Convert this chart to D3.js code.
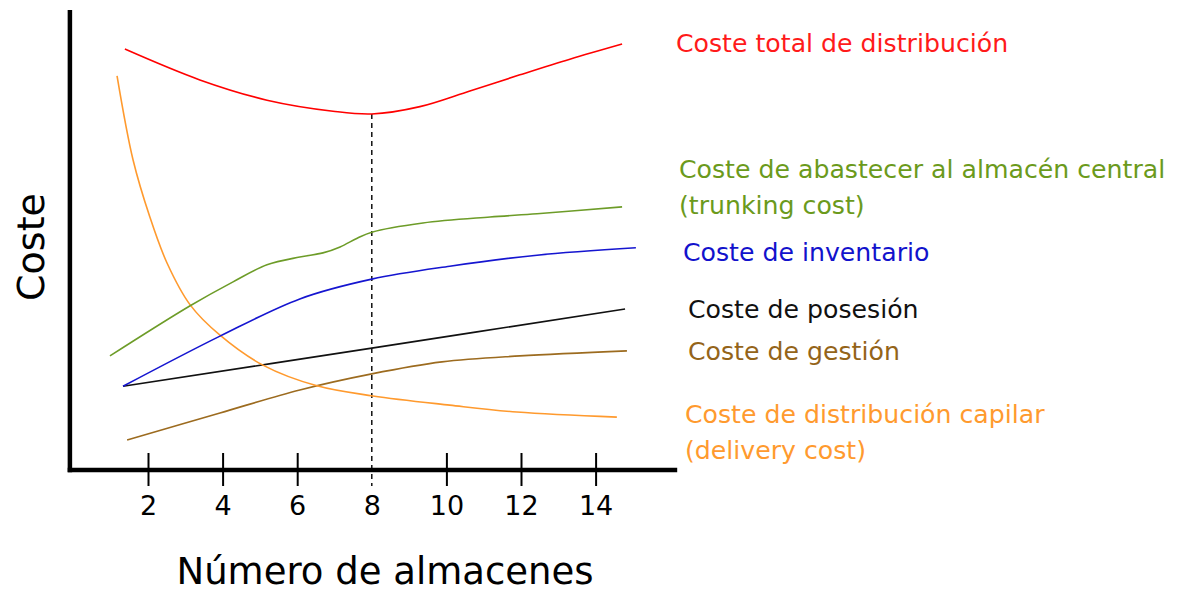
<!DOCTYPE html>
<html>
<head>
<meta charset="utf-8">
<script src="https://cdn.jsdelivr.net/npm/d3@7"></script>
<style>
  html, body { margin: 0; padding: 0; background: #fff; }
  svg { display: block; }
  text { font-family: "DejaVu Sans", Verdana, sans-serif; }
</style>
</head>
<body>
<svg id="chart" width="1180" height="594"></svg>
<script>
// Number of warehouses on the x axis, cost (arbitrary units) on the y axis.
const tickValues = [2, 4, 6, 8, 10, 12, 14];
const optimumWarehouses = 8;

// Total distribution cost
const totalX = [1.38, 3.39, 5.19, 6.96, 8.0, 9.29, 10.63, 11.97, 13.31, 14.71];
const totalY = [91.5, 84.8, 80.4, 78.0, 77.4, 79.0, 82.4, 85.9, 89.3, 92.6];

// Trunking cost
const trunkX = [0.98, 3.13, 4.28, 5.19, 6.07, 6.69, 7.15, 7.61, 8.0, 9.37, 11.17, 12.43, 14.71];
const trunkY = [24.8, 35.7, 40.9, 44.6, 46.3, 47.2, 48.5, 50.4, 51.7, 53.7, 55.0, 55.7, 57.2];

// Inventory cost
const invX = [1.33, 3.93, 6.07, 8.0, 10.09, 12.43, 15.08];
const invY = [18.2, 29.1, 37.2, 41.5, 44.3, 46.7, 48.3];

// Holding cost
const holdX = [1.33, 8.0, 14.79];
const holdY = [18.2, 26.5, 35.0];

// Management cost
const mgmtX = [1.44, 3.93, 6.07, 8.0, 9.88, 11.97, 14.84];
const mgmtY = [6.5, 12.4, 17.4, 20.9, 23.5, 24.8, 25.9];

// Delivery cost
const delivX = [1.17, 1.60, 2.05, 2.51, 3.13, 3.93, 5.08, 6.53, 8.03, 10.09, 11.89, 14.57];
const delivY = [85.7, 67.4, 55.0, 45.0, 35.9, 29.3, 22.8, 18.3, 16.1, 14.1, 12.6, 11.5];

const seriesNames = ["total", "trunk", "inv", "hold", "mgmt", "deliv"];
const seriesLabels = [
  ["Coste total de distribución"],
  ["Coste de abastecer al almacén central", "(trunking cost)"],
  ["Coste de inventario"],
  ["Coste de posesión"],
  ["Coste de gestión"],
  ["Coste de distribución capilar", "(delivery cost)"]
];
const xTitle = "Número de almacenes";
const yTitle = "Coste";

// ---- drawing ----
const colors = {
  total: "#ff0000",
  trunk: "#6d9c28",
  inv: "#1515d0",
  hold: "#111111",
  mgmt: "#9c6b1f",
  deliv: "#ff9a2e"
};
const textColors = {
  total: "#ff1a1a",
  trunk: "#6b9a1c",
  inv: "#1212cc",
  hold: "#111111",
  mgmt: "#946419",
  deliv: "#ff9a2e"
};

const svg = d3.select("#chart");
const x = d3.scaleLinear().domain([0, 16]).range([73.4, 670.2]);
const y = d3.scaleLinear().domain([0, 100]).range([470, 10]);

const seriesData = {
  total: d3.zip(totalX, totalY),
  trunk: d3.zip(trunkX, trunkY),
  inv: d3.zip(invX, invY),
  hold: d3.zip(holdX, holdY),
  mgmt: d3.zip(mgmtX, mgmtY),
  deliv: d3.zip(delivX, delivY)
};

const line = d3.line()
  .x(d => x(d[0]))
  .y(d => y(d[1]))
  .curve(d3.curveCatmullRom.alpha(0.5));

// dashed guide from the minimum of the total cost down through the axis
const yMinTotal = d3.min(totalY);
svg.append("line")
  .attr("x1", x(optimumWarehouses)).attr("x2", x(optimumWarehouses))
  .attr("y1", y(yMinTotal)).attr("y2", y(0) + 16)
  .attr("stroke", "#000").attr("stroke-width", 1.4)
  .attr("stroke-dasharray", "5,4");

// curves
const curvesG = svg.append("g");
["mgmt", "hold", "deliv", "inv", "trunk", "total"].forEach(k => {
  curvesG.append("path")
    .datum(seriesData[k])
    .attr("d", line)
    .attr("fill", "none")
    .attr("stroke", colors[k])
    .attr("stroke-width", 1.6)
    .attr("stroke-linejoin", "round");
});

// x axis ticks and numbers
const xAxis = d3.axisBottom(x).tickValues(tickValues).tickSize(16).tickPadding(8).tickFormat(d3.format("d"));
const axG = svg.append("g").attr("transform", `translate(0,${y(0)})`).call(xAxis);
axG.select(".domain").remove();
axG.selectAll(".tick line")
  .attr("y1", -17).attr("y2", 16)
  .attr("stroke", "#000").attr("stroke-width", 2)
  .attr("display", d => d === optimumWarehouses ? "none" : null);
axG.selectAll(".tick text")
  .attr("y", 45).attr("dy", null)
  .attr("font-size", 27)
  .attr("font-family", "DejaVu Sans")
  .attr("fill", "#000");

// axis lines
const x0 = x.range()[0] - 3.5;
svg.append("line")
  .attr("x1", x0).attr("x2", x0)
  .attr("y1", y(100)).attr("y2", y(0) + 2.2)
  .attr("stroke", "#000").attr("stroke-width", 4.5);
svg.append("line")
  .attr("x1", x0 - 2.2).attr("x2", x.range()[1] + 7)
  .attr("y1", y(0)).attr("y2", y(0))
  .attr("stroke", "#000").attr("stroke-width", 4.5);

// axis titles
svg.append("text")
  .attr("x", 385).attr("y", 584)
  .attr("text-anchor", "middle")
  .attr("font-size", 37)
  .attr("fill", "#000")
  .text(xTitle);
svg.append("text")
  .attr("transform", "translate(44,247) rotate(-90)")
  .attr("text-anchor", "middle")
  .attr("font-size", 38)
  .attr("fill", "#000")
  .text(yTitle);

// series labels on the right
const labelPos = {
  total: [676, 52],
  trunk: [679, 178],
  inv: [683, 261],
  hold: [688, 318],
  mgmt: [688, 360],
  deliv: [685, 423]
};
seriesNames.forEach((k, i) => {
  const t = svg.append("text")
    .attr("x", labelPos[k][0]).attr("y", labelPos[k][1])
    .attr("font-size", 25.2)
    .attr("fill", textColors[k]);
  seriesLabels[i].forEach((s, j) => {
    t.append("tspan")
      .attr("x", labelPos[k][0])
      .attr("dy", j === 0 ? 0 : 35.5)
      .text(s);
  });
});
</script>
</body>
</html>
